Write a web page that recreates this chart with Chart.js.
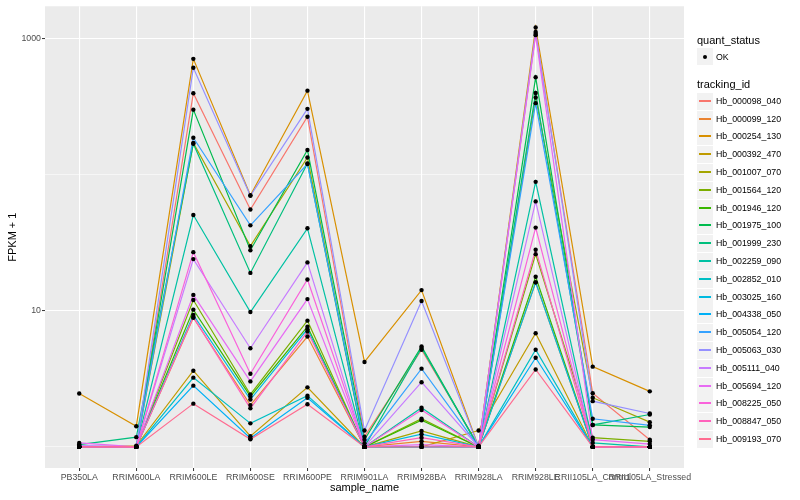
<!DOCTYPE html>
<html>
<head>
<meta charset="utf-8">
<script src="https://cdn.jsdelivr.net/npm/chart.js@4"></script>
<style>
body { margin: 0; background: #fff; font-family: "Liberation Sans", Arial, sans-serif; }
#wrap { position: relative; width: 800px; height: 500px; }
#legend { position: absolute; left: 0; top: 0; }
.ttl { position: absolute; font-size: 11px; color: #000; line-height: 12px; }
.key { position: absolute; width: 16px; height: 17px; background: #f2f2f2; }
.lab { position: absolute; font-size: 8.8px; color: #000; line-height: 10px; }
</style>
</head>
<body>
<div id="wrap">
<canvas id="grafico" width="800" height="500"></canvas>
<div id="legend"></div>
</div>
<script>
var categorias = ['PB350LA', 'RRIM600LA', 'RRIM600LE', 'RRIM600SE', 'RRIM600PE', 'RRIM901LA',
    'RRIM928BA', 'RRIM928LA', 'RRIM928LE', 'RRII105LA_Control', 'RRII105LA_Stressed'];

var trackingIds = ['Hb_000098_040', 'Hb_000099_120', 'Hb_000254_130', 'Hb_000392_470', 'Hb_001007_070',
    'Hb_001564_120', 'Hb_001946_120', 'Hb_001975_100', 'Hb_001999_230', 'Hb_002259_090',
    'Hb_002852_010', 'Hb_003025_160', 'Hb_004338_050', 'Hb_005054_120', 'Hb_005063_030',
    'Hb_005111_040', 'Hb_005694_120', 'Hb_008225_050', 'Hb_008847_050', 'Hb_009193_070'];

var cores = ['#F8766D', '#EA8331', '#D89000', '#C09B00', '#A3A500', '#7CAE00', '#39B600', '#00BB4E',
    '#00BF7D', '#00C1A3', '#00BFC4', '#00BAE0', '#00B0F6', '#35A2FF', '#9590FF', '#C77CFF',
    '#E76BF3', '#FA62DB', '#FF62BC', '#FF6C91'];

// FPKM + 1, one value per sample
var hb_000098_040 = [1.0, 1.0, 397, 55.6, 267, 1.19, 5.18, 1.02, 1084, 2.48, 1.13];
var hb_000099_120 = [1.0, 1.0, 8.9, 2.03, 6.47, 1.0, 1.10, 1.0, 16.2, 1.0, 1.0];
var hb_000254_130 = [2.47, 1.42, 711, 70.8, 415, 4.21, 14.2, 1.0, 1207, 3.89, 2.56];
var hb_000392_470 = [1.0, 1.02, 3.63, 1.20, 2.74, 1.0, 1.0, 1.32, 6.84, 1.0, 1.0];
var hb_001007_070 = [1.0, 1.0, 171, 29.9, 134, 1.0, 1.31, 1.0, 370, 2.30, 1.52];
var hb_001564_120 = [1.0, 1.0, 12.0, 2.43, 8.47, 1.0, 1.61, 1.0, 26.1, 1.17, 1.10];
var hb_001946_120 = [1.0, 1.0, 10.2, 2.35, 7.65, 1.0, 1.57, 1.0, 17.8, 1.0, 1.0];
var hb_001975_100 = [1.0, 1.0, 301, 27.9, 152, 1.13, 5.47, 1.0, 520, 1.45, 1.40];
var hb_001999_230 = [1.04, 1.18, 169, 19.0, 121, 1.0, 5.33, 1.0, 399, 1.45, 1.73];
var hb_002259_090 = [1.0, 1.0, 50.6, 9.8, 40.4, 1.0, 1.94, 1.0, 88.7, 1.07, 1.0];
var hb_002852_010 = [1.0, 1.0, 3.23, 1.49, 2.38, 1.0, 1.0, 1.0, 5.18, 1.0, 1.0];
var hb_003025_160 = [1.0, 1.0, 9.34, 2.23, 7.33, 1.0, 1.24, 1.0, 16.2, 1.0, 1.0];
var hb_004338_050 = [1.0, 1.0, 2.82, 1.16, 2.30, 1.0, 1.0, 1.0, 4.52, 1.0, 1.0];
var hb_005054_120 = [1.0, 1.0, 187, 42.5, 120, 1.06, 3.76, 1.0, 336, 1.61, 1.44];
var hb_005063_030 = [1.02, 1.0, 611, 70, 305, 1.32, 11.8, 1.0, 1121, 2.17, 1.76];
var hb_005111_040 = [1.02, 1.0, 24, 5.31, 22.7, 1.0, 2.99, 1.0, 63.7, 1.0, 1.0];
var hb_005694_120 = [1.07, 1.0, 13.1, 3.03, 12.2, 1.0, 1.04, 1.0, 1061, 1.13, 1.05];
var hb_008225_050 = [1.0, 1.0, 27, 3.45, 17.0, 1.0, 1.87, 1.0, 40.9, 1.0, 1.0];
var hb_008847_050 = [1.0, 1.0, 9.0, 1.92, 7.04, 1.0, 1.17, 1.0, 28.1, 1.0, 1.0];
var hb_009193_070 = [1.0, 1.0, 2.08, 1.14, 2.06, 1.0, 1.0, 1.0, 3.71, 1.0, 1.0];

var valores = [hb_000098_040, hb_000099_120, hb_000254_130, hb_000392_470, hb_001007_070,
    hb_001564_120, hb_001946_120, hb_001975_100, hb_001999_230, hb_002259_090,
    hb_002852_010, hb_003025_160, hb_004338_050, hb_005054_120, hb_005063_030,
    hb_005111_040, hb_005694_120, hb_008225_050, hb_008847_050, hb_009193_070];

var yTicks = [1, 10, 100, 1000];
var yLabels = [10, 1000];

var datasets = [];
var pontos = [];
valores.forEach(function (serie, i) {
    var pts = serie.map(function (v, j) { return { x: j, y: v }; });
    pontos = pontos.concat(pts);
    datasets.push({
        type: 'line',
        label: trackingIds[i],
        data: pts,
        borderColor: cores[i],
        borderWidth: 1.2,
        pointRadius: 0,
        fill: false,
        tension: 0,
        order: 19 - i
    });
});
datasets.push({
    type: 'scatter',
    label: 'OK',
    data: pontos,
    backgroundColor: '#000',
    borderColor: '#000',
    pointRadius: 2.2,
    borderWidth: 0,
    order: -1
});

var fundo = {
    id: 'fundo',
    beforeDraw: function (chart) {
        var a = chart.chartArea;
        var ctx = chart.ctx;
        ctx.save();
        ctx.fillStyle = '#EBEBEB';
        ctx.fillRect(a.left, a.top, a.right - a.left, a.bottom - a.top);
        ctx.restore();
    }
};

function ehMajor(v) { return yLabels.indexOf(v) >= 0; }

var ctx = document.getElementById('grafico').getContext('2d');
var myChart = new Chart(ctx, {
    type: 'line',
    data: { datasets: datasets },
    plugins: [fundo],
    options: {
        responsive: false,
        animation: false,
        devicePixelRatio: 1,
        layout: { padding: { top: 5, right: 116, left: 0, bottom: 0 } },
        plugins: { legend: { display: false }, tooltip: { enabled: false } },
        scales: {
            x: {
                type: 'linear',
                min: -0.6,
                max: 10.6,
                afterBuildTicks: function (s) {
                    s.ticks = categorias.map(function (c, i) { return { value: i }; });
                },
                afterFit: function (s) { s.height = 32; },
                border: { display: false },
                grid: { color: '#fff', lineWidth: 1.1, tickColor: '#333', tickLength: 3, tickWidth: 1 },
                ticks: {
                    autoSkip: false,
                    maxRotation: 0,
                    padding: 1,
                    color: '#4D4D4D',
                    font: { family: 'Liberation Sans', size: 8.8 },
                    callback: function (v) { return categorias[v]; }
                },
                title: {
                    display: true,
                    text: 'sample_name',
                    color: '#000',
                    font: { family: 'Liberation Sans', size: 11 },
                    padding: { top: 0, bottom: 5 }
                }
            },
            y: {
                type: 'logarithmic',
                min: 0.71,
                max: 1730,
                afterBuildTicks: function (s) {
                    s.ticks = yTicks.map(function (v) { return { value: v, major: ehMajor(v) }; });
                },
                afterFit: function (s) { s.width = 45; },
                border: { display: false },
                grid: {
                    color: '#fff',
                    lineWidth: function (c) { return ehMajor(c.tick.value) ? 1.1 : 0.55; },
                    tickColor: function (c) { return ehMajor(c.tick.value) ? '#333' : 'rgba(0,0,0,0)'; },
                    tickLength: 3,
                    tickWidth: 1
                },
                ticks: {
                    padding: 1,
                    color: '#4D4D4D',
                    font: { family: 'Liberation Sans', size: 8.8 },
                    callback: function (v) { return ehMajor(v) ? String(v) : ''; }
                },
                title: {
                    display: true,
                    text: 'FPKM + 1',
                    color: '#000',
                    font: { family: 'Liberation Sans', size: 11 },
                    padding: { top: 6, bottom: 0 }
                }
            }
        }
    }
});

// legenda em html
var legenda = document.getElementById('legend');
var html = '';
html += '<div class="ttl" style="left:697px;top:34px">quant_status</div>';
html += '<div class="key" style="left:697px;top:48px"><div style="position:absolute;left:6px;top:7px;width:4px;height:4px;border-radius:2px;background:#000"></div></div>';
html += '<div class="lab" style="left:716px;top:52px">OK</div>';
html += '<div class="ttl" style="left:697px;top:78px">tracking_id</div>';
trackingIds.forEach(function (id, i) {
    var cy = Math.round(100.7 + i * 17.8);
    html += '<div class="key" style="left:697px;top:' + (cy - 8) + 'px"><div style="position:absolute;left:2px;top:7px;width:12px;height:2px;background:' + cores[i] + '"></div></div>';
    html += '<div class="lab" style="left:716px;top:' + (cy - 5) + 'px">' + id + '</div>';
});
legenda.innerHTML = html;
</script>
</body>
</html>
